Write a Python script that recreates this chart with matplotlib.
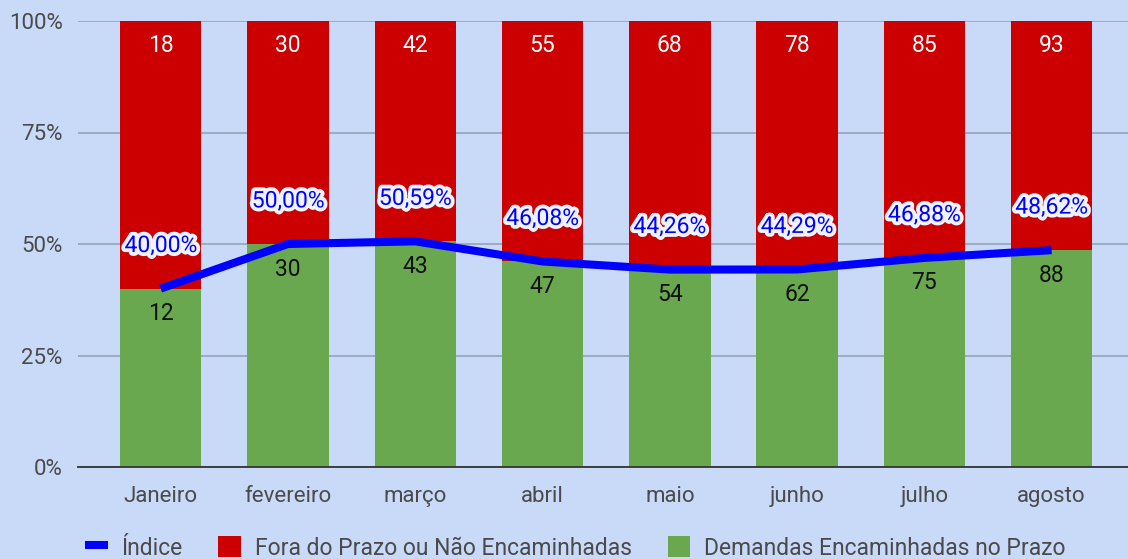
import matplotlib
matplotlib.use("Agg")
import matplotlib.pyplot as plt
import matplotlib.patheffects as pe
import numpy as np

months = ["Janeiro", "fevereiro", "março", "abril", "maio", "junho", "julho", "agosto"]
no_prazo = [12, 30, 43, 47, 54, 62, 75, 88]
fora_prazo = [18, 30, 42, 55, 68, 78, 85, 93]
indice_labels = ["40,00%", "50,00%", "50,59%", "46,08%", "44,26%", "44,29%", "46,88%", "48,62%"]
indice = [40.00, 50.00, 50.59, 46.08, 44.26, 44.29, 46.88, 48.62]

plt.rcParams['font.family'] = ['Roboto', 'DejaVu Sans']
bg = "#c9daf8"
fig = plt.figure(figsize=(11.28, 5.59), dpi=100, facecolor=bg)
ax = fig.add_axes([78/1128, 1 - 467/559, (1128-78)/1128, (467-21)/559], facecolor=bg)

x = np.arange(len(months))
tot = np.array(no_prazo) + np.array(fora_prazo)
g = np.array(no_prazo) / tot * 100
r = np.array(fora_prazo) / tot * 100
w = 0.64
ax.plot(x, indice, color="#0000ff", lw=5.8, zorder=3, label="Índice", solid_capstyle="butt")
ax.bar(x, r, w, bottom=g, color="#cc0000", zorder=2, label="Fora do Prazo ou Não Encaminhadas")
ax.bar(x, g, w, color="#6aa84f", zorder=2, label="Demandas Encaminhadas no Prazo")

for i in range(len(x)):
    ax.annotate(str(fora_prazo[i]), (x[i], 100), xytext=(0, -18), textcoords="offset points",
                ha="center", va="center", color="white", fontsize=16.5, zorder=5)
    ax.annotate(str(no_prazo[i]), (x[i], g[i]), xytext=(0, -18), textcoords="offset points",
                ha="center", va="center", color="#111111", fontsize=16.5, zorder=5)
    ax.annotate(indice_labels[i], (x[i], indice[i]), xytext=(0, 31), textcoords="offset points",
                ha="center", va="center", color="#0000ff", fontsize=16.5, zorder=6,
                path_effects=[pe.withStroke(linewidth=5.5, foreground="#eef3fe")])

ax.set_ylim(0, 100)
ax.set_xlim(-0.65, 7.6)
ax.set_yticks([0, 25, 50, 75, 100])
ax.set_yticklabels(["0%", "25%", "50%", "75%", "100%"])
ax.set_xticks(x)
ax.set_xticklabels(months)
ax.tick_params(axis="both", length=0, labelsize=16, labelcolor="#4a4a4a")
ax.tick_params(axis="x", pad=14)
ax.tick_params(axis="y", pad=11)
ax.grid(axis="y", color="#9aa7bd", lw=1.3, zorder=1)
for s in ["top", "right", "left"]:
    ax.spines[s].set_visible(False)
ax.spines["bottom"].set_color("#333333")
ax.spines["bottom"].set_linewidth(1.3)
ax.spines["bottom"].set_zorder(4)

h, l = ax.get_legend_handles_labels()
leg = fig.legend(h, l, loc="center",
                 bbox_to_anchor=(0.51, 1 - 548/559), ncol=3, frameon=False,
                 fontsize=16.5, labelcolor="#4a4a4a", handlelength=1.0, handleheight=1.0,
                 columnspacing=1.55, handletextpad=0.6)
fig.savefig("out.png", dpi=100, facecolor=bg)
